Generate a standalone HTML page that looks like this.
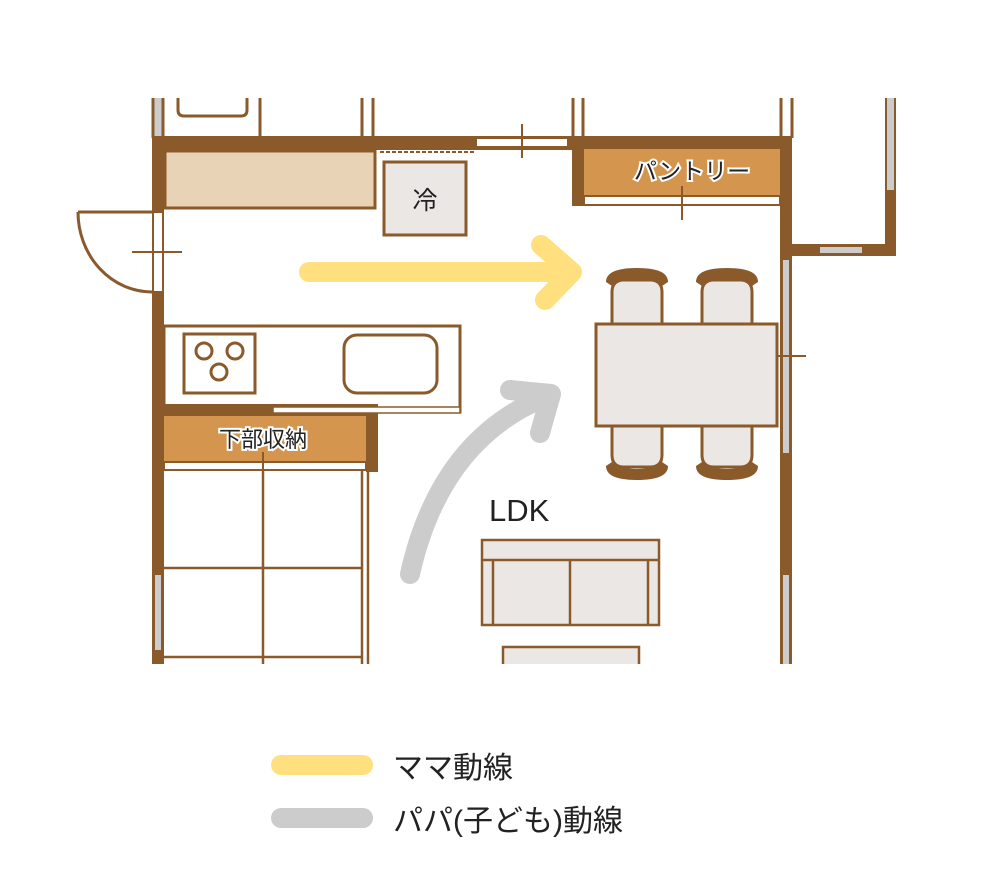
<!DOCTYPE html>
<html><head><meta charset="utf-8"><style>
html,body{margin:0;padding:0;background:#fff;}
svg{display:block;}
text{font-family:"Liberation Sans","Noto Sans CJK JP",sans-serif;}
</style></head><body>
<svg width="1000" height="878" viewBox="0 0 1000 878" xmlns="http://www.w3.org/2000/svg">
<g fill="none" stroke="#8b5a2b" stroke-width="3">
 <rect x="153" y="98" width="10" height="40" fill="#ccc" stroke="none"/>
 <line x1="153" y1="98" x2="153" y2="138"/><line x1="163" y1="98" x2="163" y2="138"/>
 <path d="M178 98 V110 Q178 116 184 116 H241 Q247 116 247 110 V98"/>
 <line x1="260" y1="98" x2="260" y2="138"/>
 <line x1="362" y1="98" x2="362" y2="138"/><line x1="373" y1="98" x2="373" y2="138"/>
 <line x1="573" y1="98" x2="573" y2="138"/><line x1="583" y1="98" x2="583" y2="138"/>
 <line x1="781" y1="98" x2="781" y2="138"/><line x1="792" y1="98" x2="792" y2="138"/>
</g>
<g fill="#8b5a2b">
 <rect x="152" y="136" width="425" height="14"/>
 <rect x="152" y="136" width="12" height="76"/>
 <rect x="152" y="292" width="12" height="372"/>
 <rect x="572" y="136" width="220" height="14"/>
 <rect x="572" y="136" width="12" height="70"/>
 <rect x="780" y="136" width="12" height="528"/>
 <rect x="792" y="244" width="104" height="12"/>
 <rect x="885" y="98" width="11" height="158"/>
 <rect x="152" y="404" width="226" height="12"/>
 <rect x="366" y="404" width="12" height="68"/>
</g>
<rect x="477" y="139" width="90" height="7" fill="#fff"/>
<line x1="522" y1="124" x2="522" y2="158" stroke="#8b5a2b" stroke-width="2"/>
<rect x="887" y="98" width="7" height="92" fill="#ccc"/>
<rect x="820" y="247" width="42" height="6" fill="#ccc"/>
<rect x="783" y="260" width="6" height="193" fill="#ccc"/>
<rect x="783" y="575" width="6" height="89" fill="#ccc"/>
<rect x="155" y="575" width="6" height="75" fill="#ccc"/>
<line x1="776" y1="356" x2="806" y2="356" stroke="#8b5a2b" stroke-width="2"/>
<rect x="153" y="212" width="10" height="80" fill="#fff" stroke="#8b5a2b" stroke-width="2"/>
<path d="M78 212 H152 M78 212 A74 80 0 0 0 152 292" fill="none" stroke="#8b5a2b" stroke-width="3"/>
<line x1="132" y1="252" x2="182" y2="252" stroke="#8b5a2b" stroke-width="2"/>
<rect x="165" y="151" width="210" height="57" fill="#e8d3b7" stroke="#8b5a2b" stroke-width="3"/>
<line x1="380" y1="152" x2="475" y2="152" stroke="#8b5a2b" stroke-width="2" stroke-dasharray="4,2"/>
<rect x="384" y="162" width="82" height="73" fill="#ebe7e4" stroke="#8b5a2b" stroke-width="3"/>
<text x="425" y="209" font-size="25" text-anchor="middle" fill="#222">冷</text>
<rect x="584" y="149" width="196" height="47" fill="#d4964f"/>
<rect x="584" y="196" width="196" height="9" fill="#fff" stroke="#8b5a2b" stroke-width="2"/>
<line x1="682" y1="186" x2="682" y2="220" stroke="#8b5a2b" stroke-width="2"/>
<text x="692" y="179" font-size="23" text-anchor="middle" fill="#222" stroke="#fff" stroke-width="4" paint-order="stroke">パントリー</text>
<rect x="164" y="326" width="296" height="86" fill="#fff" stroke="#8b5a2b" stroke-width="3"/>
<rect x="184" y="334" width="71" height="59" fill="none" stroke="#8b5a2b" stroke-width="3"/>
<g fill="none" stroke="#8b5a2b" stroke-width="3"><circle cx="204" cy="351" r="8"/><circle cx="235" cy="351" r="8"/><circle cx="219" cy="372" r="8"/></g>
<rect x="344" y="335" width="93" height="58" rx="13" fill="none" stroke="#8b5a2b" stroke-width="3"/>
<rect x="152" y="404" width="226" height="12" fill="#8b5a2b"/>
<rect x="273" y="407" width="187" height="6" fill="#fff" stroke="#8b5a2b" stroke-width="1.5"/>
<rect x="164" y="416" width="202" height="46" fill="#d4964f"/>
<rect x="164" y="462" width="202" height="8" fill="#fff" stroke="#8b5a2b" stroke-width="2"/>
<text x="263" y="447" font-size="22" text-anchor="middle" fill="#222" stroke="#fff" stroke-width="4" paint-order="stroke">下部収納</text>
<line x1="263" y1="452" x2="263" y2="485" stroke="#8b5a2b" stroke-width="2"/>
<g fill="none" stroke="#8b5a2b" stroke-width="2.5">
 <line x1="263" y1="470" x2="263" y2="664"/>
 <line x1="164" y1="568" x2="362" y2="568"/>
 <line x1="164" y1="657" x2="362" y2="657"/>
 <line x1="362" y1="470" x2="362" y2="664"/>
 <line x1="368" y1="470" x2="368" y2="664"/>
</g>
<g fill="#ebe7e4" stroke="#8b5a2b" stroke-width="3">
 <path d="M612 324 V292 Q612 280 624 280 H650 Q662 280 662 292 V324"/>
 <path d="M702 324 V292 Q702 280 714 280 H740 Q752 280 752 292 V324"/>
 <path d="M612 426 V455 Q612 467 624 467 H650 Q662 467 662 455 V426"/>
 <path d="M702 426 V455 Q702 467 714 467 H740 Q752 467 752 455 V426"/>
 <rect x="596" y="324" width="181" height="102"/>
</g>
<g fill="#8b5a2b">
 <path d="M606 282 Q606 268 637 268 Q668 268 668 282 L662 286 Q652 279 637 279 Q622 279 612 286 Z"/>
 <path d="M696 282 Q696 268 727 268 Q758 268 758 282 L752 286 Q742 279 727 279 Q712 279 702 286 Z"/>
 <path d="M606 466 Q606 480 637 480 Q668 480 668 466 L662 462 Q652 469 637 469 Q622 469 612 462 Z"/>
 <path d="M696 466 Q696 480 727 480 Q758 480 758 466 L752 462 Q742 469 727 469 Q712 469 702 462 Z"/>
</g>
<g fill="#ebe7e4" stroke="#8b5a2b" stroke-width="2.5">
 <rect x="482" y="540" width="177" height="85"/>
 <line x1="482" y1="560" x2="659" y2="560"/>
 <line x1="493" y1="560" x2="493" y2="625"/>
 <line x1="648" y1="560" x2="648" y2="625"/>
 <line x1="570" y1="560" x2="570" y2="625"/>
 <path d="M503 664 V647 H639 V664"/>
</g>
<text x="489" y="521" font-size="31" fill="#222">LDK</text>
<g fill="none" stroke-linecap="round" stroke-linejoin="round">
 <path d="M309 272 H568" stroke="#ffdf7e" stroke-width="20"/>
 <path d="M541 245 L572 272 L545 300" stroke="#ffdf7e" stroke-width="20"/>
 <path d="M410 574 Q440 440 545 397" stroke="#cccccc" stroke-width="20"/>
 <path d="M510 390 L551 394 L540 433" stroke="#cccccc" stroke-width="20"/>
</g>
<line x1="281" y1="765" x2="363" y2="765" stroke="#ffdf7e" stroke-width="20" stroke-linecap="round"/>
<line x1="281" y1="818" x2="363" y2="818" stroke="#cccccc" stroke-width="20" stroke-linecap="round"/>
<text x="393" y="778" font-size="30" fill="#222">ママ動線</text>
<text x="393" y="831" font-size="30" fill="#222">パパ(子ども)動線</text>
</svg>
</body></html>
